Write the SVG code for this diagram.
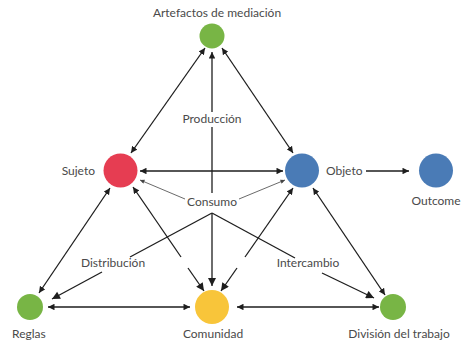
<svg xmlns="http://www.w3.org/2000/svg" width="462" height="345" viewBox="0 0 462 345">
<style>
text{font-family:Lato,"Open Sans","Liberation Sans",sans-serif;font-size:12px;fill:#4a4a4a}
.c{text-anchor:middle}
.e{text-anchor:end}
.l{stroke:#1e1e1e;stroke-width:1.3;fill:none}
.t{stroke:#444;stroke-width:0.8;fill:none}
</style>
<defs>
<marker id="a" viewBox="0 0 10 10" refX="10" refY="5" markerUnits="userSpaceOnUse" markerWidth="7" markerHeight="6.5" orient="auto-start-reverse"><path d="M0,0L10,5L0,10z" fill="#1e1e1e"/></marker>
<marker id="b" viewBox="0 0 10 10" refX="10" refY="5" markerUnits="userSpaceOnUse" markerWidth="9" markerHeight="8" orient="auto-start-reverse"><path d="M0,0L10,5L0,10z" fill="#1e1e1e"/></marker>
<marker id="s" viewBox="0 0 10 10" refX="10" refY="5" markerUnits="userSpaceOnUse" markerWidth="5" markerHeight="4.5" orient="auto-start-reverse"><path d="M0,0L10,5L0,10z" fill="#444"/></marker>
</defs>
<g id="connectors">
<line class="l" x1="131" y1="153" x2="205" y2="48" marker-start="url(#a)" marker-end="url(#a)"/>
<line class="l" x1="293" y1="153" x2="222" y2="48" marker-start="url(#a)" marker-end="url(#a)"/>
<line class="l" x1="212" y1="112" x2="212" y2="52" marker-end="url(#a)"/>
<line class="l" x1="212" y1="127" x2="212" y2="193"/>
<line class="l" x1="212" y1="213" x2="212" y2="286" marker-end="url(#b)"/>
<line class="l" x1="140" y1="171" x2="283" y2="171" marker-start="url(#a)" marker-end="url(#a)"/>
<line class="t" x1="185" y1="199" x2="140" y2="180" marker-end="url(#s)"/>
<line class="t" x1="239" y1="199" x2="285" y2="180" marker-end="url(#s)"/>
<line class="l" x1="212" y1="213" x2="130" y2="257"/>
<line class="l" x1="102" y1="272" x2="52" y2="299" marker-end="url(#b)"/>
<line class="l" x1="212" y1="213" x2="295" y2="258"/>
<line class="l" x1="322" y1="273" x2="374" y2="298" marker-end="url(#b)"/>
<line class="l" x1="39" y1="293" x2="110" y2="188" marker-start="url(#a)" marker-end="url(#a)"/>
<line class="l" x1="133" y1="187" x2="181" y2="257" marker-start="url(#a)"/>
<line class="l" x1="188" y1="268" x2="204" y2="291" marker-end="url(#b)"/>
<line class="l" x1="293" y1="188" x2="245" y2="257" marker-start="url(#a)"/>
<line class="l" x1="237" y1="268" x2="221" y2="291" marker-end="url(#b)"/>
<line class="l" x1="313" y1="188" x2="385" y2="295" marker-start="url(#a)" marker-end="url(#a)"/>
<line class="l" x1="48" y1="307" x2="190" y2="307" marker-start="url(#a)" marker-end="url(#a)"/>
<line class="l" x1="237" y1="307" x2="379" y2="307" marker-start="url(#a)" marker-end="url(#a)"/>
<line class="l" x1="366" y1="171" x2="409" y2="171" marker-end="url(#a)"/>
<text class="c" x="212" y="123">Producción</text>
<text class="c" x="212" y="206">Consumo</text>
<text class="c" x="113" y="267">Distribución</text>
<text class="c" x="308" y="267">Intercambio</text>
</g>
<g id="artefactos"><circle cx="212" cy="36" r="12.5" fill="#78b545"/><text class="c" x="217" y="17">Artefactos de mediación</text></g>
<g id="sujeto"><circle cx="120.5" cy="170.5" r="17" fill="#e63d52"/><text class="e" x="95" y="175">Sujeto</text></g>
<g id="objeto"><circle cx="302" cy="170.5" r="17" fill="#4a7bb6"/><text x="326" y="175">Objeto</text></g>
<g id="outcome"><circle cx="436" cy="170.5" r="17" fill="#4a7bb6"/><text class="c" x="436" y="205">Outcome</text></g>
<g id="reglas"><circle cx="30" cy="307" r="13" fill="#78b545"/><text x="12" y="338">Reglas</text></g>
<g id="comunidad"><circle cx="212" cy="307" r="17" fill="#f8c53a"/><text class="c" x="213" y="338">Comunidad</text></g>
<g id="division"><circle cx="393" cy="307" r="13" fill="#78b545"/><text class="c" x="399" y="338">División del trabajo</text></g>
</svg>
